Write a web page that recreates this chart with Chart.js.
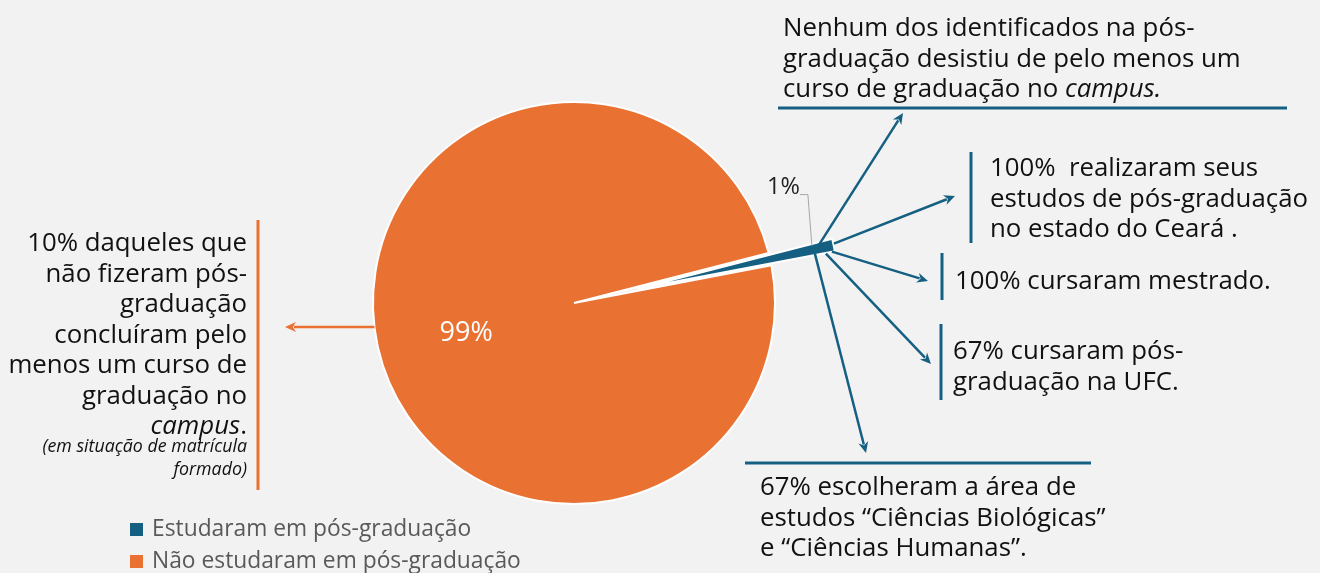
<!DOCTYPE html>
<html lang="pt-BR">
<head>
<meta charset="utf-8">
<title>Pós-graduação</title>
<script src="https://cdn.jsdelivr.net/npm/chart.js@4.4.1/dist/chart.umd.min.js"></script>
<style>
  html, body { margin: 0; padding: 0; background: #f2f2f2; }
  body { width: 1320px; height: 573px; position: relative; overflow: hidden; font-family: 'Open Sans', sans-serif; color: #111; }
  #chart { position: absolute; left: 0; top: 0; }
  .note { position: absolute; font-size: 25.8px; line-height: 30.5px; white-space: nowrap; }
  .right { text-align: right; }
  .small { font-size: 17.8px; line-height: 23px; font-style: italic; margin-top: -6px; }
  #legend { position: absolute; left: 130px; top: 512px; font-size: 22.8px; line-height: 32px; color: #595959; white-space: nowrap; }
  #legend .box { display: inline-block; width: 13px; height: 13px; margin-right: 9px; }
</style>
</head>
<body>
<canvas id="chart" width="1320" height="573"></canvas>

<div class="note" style="left:783px; top:11px;">Nenhum dos identificados na pós-<br>graduação desistiu de pelo menos um<br>curso de graduação no <i>campus.</i></div>
<div class="note" style="left:990px; top:151px;">100%&nbsp; realizaram seus<br>estudos de pós-graduação<br>no estado do Ceará .</div>
<div class="note" style="left:955px; top:264px;">100% cursaram mestrado.</div>
<div class="note" style="left:953px; top:334px;">67% cursaram pós-<br>graduação na UFC.</div>
<div class="note" style="left:760px; top:470px;">67% escolheram a área de<br>estudos “Ciências Biológicas”<br>e “Ciências Humanas”.</div>
<div class="note right" style="right:1073px; top:226px;">10% daqueles que<br>não fizeram pós-<br>graduação<br>concluíram pelo<br>menos um curso de<br>graduação no<br><i>campus</i>.<div class="small">(em situação de matrícula<br>formado)</div></div>

<div id="legend"></div>

<script>
// dados do gráfico
const labels = ['Estudaram em pós-graduação', 'Não estudaram em pós-graduação'];
const values = [1, 99];
const valueLabels = ['1%', '99%'];
const colors = ['#156082', '#E97132'];

// destaque da fatia azul e posições das anotações (pixels da página)
const explodeDistance = 65;
const blueArrowTips = [[903, 113], [955, 196], [928, 281], [931, 364], [866, 453]];
const blueArrowStarts = [[816, 252], [834, 246], [832, 254], [826, 256], [815, 256]];
const blueRules = [[778, 108, 1287, 108], [971, 152, 971, 243], [942, 253, 942, 300], [941, 324, 941, 400], [745, 463, 1091, 463]];
const orangeRule = [258, 220, 258, 490];

function arrow(ctx, x0, y0, x1, y1, color) {
    const a = Math.atan2(y1 - y0, x1 - x0);
    const len = 11, half = 5;
    ctx.strokeStyle = color;
    ctx.fillStyle = color;
    ctx.lineWidth = 2.5;
    ctx.beginPath();
    ctx.moveTo(x0, y0);
    ctx.lineTo(x1 - Math.cos(a) * len * 0.8, y1 - Math.sin(a) * len * 0.8);
    ctx.stroke();
    ctx.beginPath();
    ctx.moveTo(x1, y1);
    ctx.lineTo(x1 - Math.cos(a) * len + Math.sin(a) * half, y1 - Math.sin(a) * len - Math.cos(a) * half);
    ctx.lineTo(x1 - Math.cos(a) * len * 0.7, y1 - Math.sin(a) * len * 0.7);
    ctx.lineTo(x1 - Math.cos(a) * len - Math.sin(a) * half, y1 - Math.sin(a) * len + Math.cos(a) * half);
    ctx.closePath();
    ctx.fill();
}

function rule(ctx, r, color) {
    ctx.strokeStyle = color;
    ctx.lineWidth = 3;
    ctx.beginPath();
    ctx.moveTo(r[0], r[1]);
    ctx.lineTo(r[2], r[3]);
    ctx.stroke();
}

const explode = {
    id: 'explode',
    // afasta a fatia azul do centro sem estreitar a fatia (como no Excel)
    afterDatasetsUpdate(chart) {
        const arc = chart.getDatasetMeta(0).data[0];
        const mid = (arc.startAngle + arc.endAngle) / 2;
        arc.x += Math.cos(mid) * explodeDistance;
        arc.y += Math.sin(mid) * explodeDistance;
    }
};

const annotations = {
    id: 'annotations',
    afterDraw(chart) {
        const ctx = chart.ctx;
        const arcs = chart.getDatasetMeta(0).data;
        const blue = arcs[0], orange = arcs[1];
        ctx.save();

        // ponta da fatia destacada
        const mid = (blue.startAngle + blue.endAngle) / 2;
        const hx = blue.x + Math.cos(mid) * (blue.outerRadius - 12);
        const hy = blue.y + Math.sin(mid) * (blue.outerRadius - 12);

        blueRules.forEach(r => rule(ctx, r, colors[0]));
        rule(ctx, orangeRule, colors[1]);
        blueArrowTips.forEach((t, i) => {
            const s = blueArrowStarts[i];
            arrow(ctx, s[0] + (hx - 822), s[1] + (hy - 250), t[0], t[1], colors[0]);
        });

        // seta laranja saindo da borda esquerda da pizza
        const oy = orange.y + 24;
        const ox = orange.x - Math.sqrt(orange.outerRadius * orange.outerRadius - 24 * 24);
        arrow(ctx, ox, oy, 285, oy, colors[1]);

        // rótulo 1% com linha guia
        ctx.strokeStyle = '#a6a6a6';
        ctx.lineWidth = 1;
        ctx.beginPath();
        ctx.moveTo(hx - 22, hy - 53);
        ctx.lineTo(hx - 14, hy - 53);
        ctx.lineTo(hx - 10, hy - 2);
        ctx.stroke();
        ctx.fillStyle = '#222';
        ctx.font = '23.5px "Open Sans"';
        ctx.textAlign = 'right';
        ctx.textBaseline = 'middle';
        ctx.fillText(valueLabels[0], hx - 22, hy - 60);

        // rótulo 99%
        const omid = (orange.startAngle + orange.endAngle) / 2;
        const lr = orange.outerRadius * 0.56;
        ctx.fillStyle = '#ffffff';
        ctx.font = '27px "Open Sans"';
        ctx.textAlign = 'center';
        ctx.fillText(valueLabels[1], orange.x + Math.cos(omid) * lr + 2, orange.y + Math.sin(omid) * lr + 6);
        ctx.restore();
    }
};

const chart = new Chart(document.getElementById('chart'), {
    type: 'pie',
    data: {
        labels: labels,
        datasets: [{
            data: values,
            backgroundColor: colors,
            borderColor: '#ffffff',
            borderWidth: 2
        }]
    },
    options: {
        responsive: false,
        animation: false,
        rotation: 75.6,
        radius: 201,
        layout: { padding: { left: 0, right: 172, top: 33, bottom: 0 } },
        plugins: {
            legend: { display: false },
            tooltip: { enabled: false }
        }
    },
    plugins: [explode, annotations]
});

// legenda em HTML a partir dos dados do gráfico
const legend = document.getElementById('legend');
labels.forEach((l, i) => {
    const row = document.createElement('div');
    const box = document.createElement('span');
    box.className = 'box';
    box.style.background = colors[i];
    row.appendChild(box);
    row.appendChild(document.createTextNode(l));
    legend.appendChild(row);
});
</script>
</body>
</html>
